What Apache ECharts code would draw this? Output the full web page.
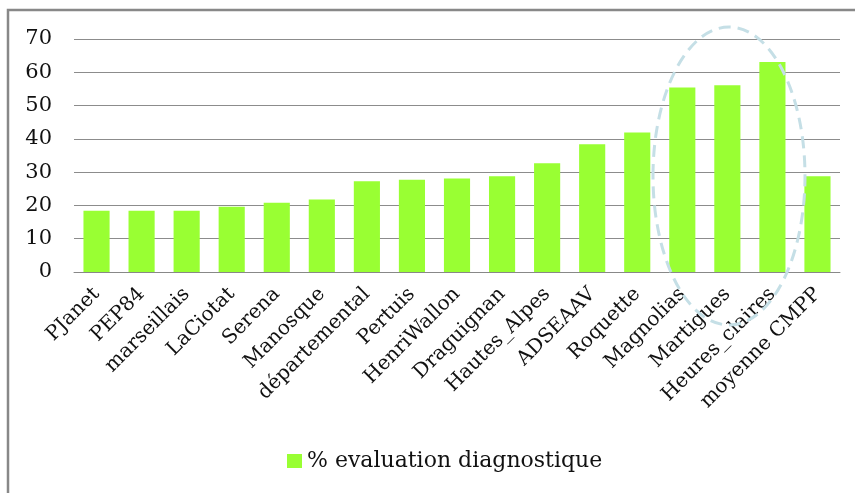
<!DOCTYPE html>
<html><head><meta charset="utf-8">
<script src="https://cdn.jsdelivr.net/npm/echarts@6/dist/echarts.min.js"></script>
<style>html,body{margin:0;padding:0;background:#fff}#c{width:855px;height:493px}</style>
</head><body><div id="c"></div>
<script>
const categories = ['PJanet','PEP84','marseillais','LaCiotat','Serena','Manosque','départemental','Pertuis','HenriWallon','Draguignan','Hautes_Alpes','ADSEAAV','Roquette','Magnolias','Martigues','Heures_claires','moyenne CMPP'];
const values = [18.4,18.4,18.4,19.6,20.8,21.8,27.3,27.7,28.1,28.8,32.7,38.4,41.9,55.4,56.1,63.1,28.8];
const seriesName = '% evaluation diagnostique';
const yTicks = [0,10,20,30,40,50,60,70];

const FONT = 'DejaVu Serif';
const chart = echarts.init(document.getElementById('c'), null, {renderer:'canvas'});
chart.setOption({
  animation:false,
  grid:{left:74,right:15,top:39,bottom:221},
  legend:{bottom:16,left:282,itemWidth:15,itemHeight:14,icon:'rect',itemGap:6,
    textStyle:{fontFamily:FONT,fontSize:22,color:'#111'},data:[seriesName]},
  xAxis:{type:'category',data:categories,
    axisLine:{lineStyle:{color:'#888'}},axisTick:{show:false},
    axisLabel:{rotate:45,interval:0,fontFamily:FONT,fontSize:20,color:'#111',margin:19}},
  yAxis:{type:'value',min:yTicks[0],max:yTicks[yTicks.length-1],interval:10,
    axisLine:{show:false},axisTick:{show:false},
    splitLine:{lineStyle:{color:'#8c8c8c',width:1}},
    axisLabel:{fontFamily:FONT,fontSize:21,color:'#111',margin:22}},
  series:[{name:seriesName,type:'bar',data:values,barCategoryGap:'42%',
    itemStyle:{color:'#99ff33'}}],
  graphic:[
    {type:'rect',shape:{x:8,y:10,width:1000,height:700},style:{fill:'none',stroke:'#888',lineWidth:2.5},silent:true},
    {type:'ellipse',shape:{cx:729,cy:176,rx:76,ry:149},style:{fill:'none',stroke:'#c5dfe6',lineWidth:3,lineDash:[12,7]},silent:true,z:100}
  ]
});
</script></body></html>
